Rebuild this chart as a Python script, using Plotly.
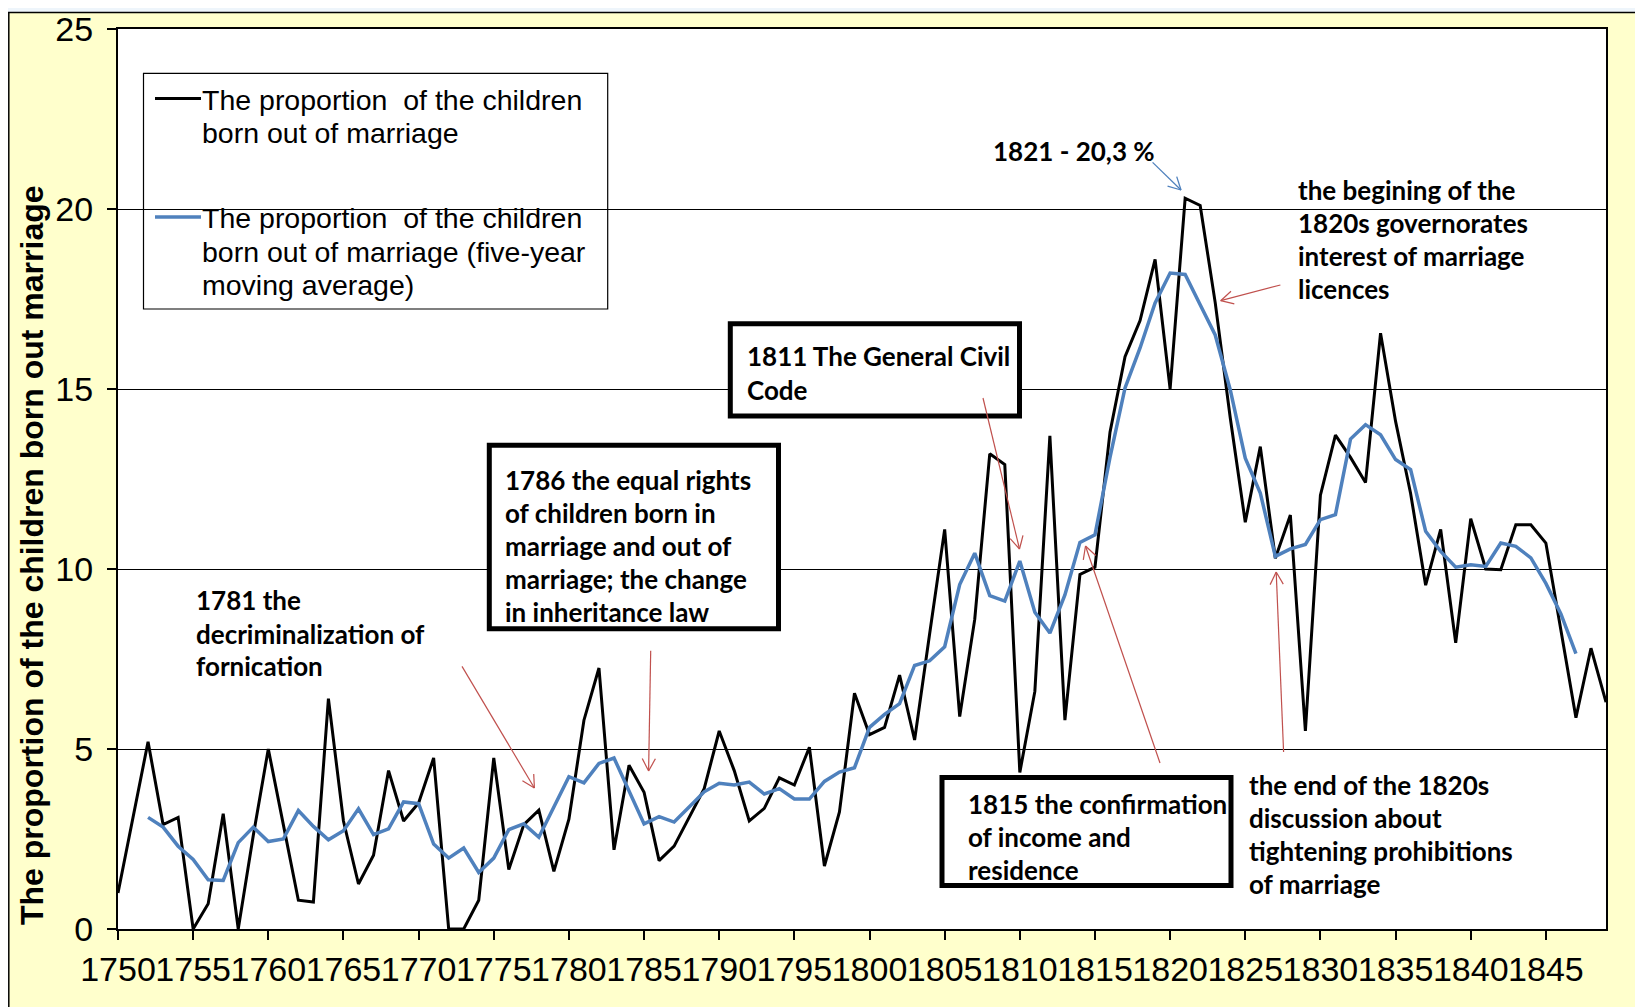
import math
import plotly.graph_objects as go

# ---------------- data ----------------
years = list(range(1750, 1850))
share_out_of_marriage = [
    1.0, 3.1, 5.2, 2.9, 3.1, 0.0, 0.7, 3.2, 0.0, 2.6,
    5.0, 2.9, 0.8, 0.75, 6.4, 3.0, 1.25, 2.05, 4.4, 3.0,
    3.5, 4.75, 0.0, 0.0, 0.8, 4.75, 1.65, 2.9, 3.3, 1.6,
    3.05, 5.8, 7.25, 2.2, 4.55, 3.8, 1.9, 2.3, 3.1, 3.9,
    5.5, 4.4, 3.0, 3.35, 4.2, 4.0, 5.05, 1.75, 3.25, 6.55,
    5.4, 5.6, 7.05, 5.25, 8.2, 11.1, 5.9, 8.6, 13.2, 12.9,
    4.35, 6.6, 13.7, 5.8, 9.85, 10.05, 13.8, 15.9, 16.9, 18.6,
    15.0, 20.3, 20.1, 17.4, 14.2, 11.3, 13.4, 10.3, 11.5, 5.5,
    12.05, 13.72, 13.1, 12.4, 16.55, 14.1, 12.1, 9.55, 11.1, 7.95,
    11.4, 10.0, 9.98, 11.23, 11.23, 10.72, 8.3, 5.87, 7.8, 6.3,
]
ma_years = list(range(1752, 1848))
share_moving_avg = [
    3.1, 2.83, 2.3, 1.93, 1.37, 1.35, 2.4, 2.83, 2.43, 2.5,
    3.29, 2.85, 2.48, 2.73, 3.34, 2.62, 2.78, 3.53, 3.48, 2.36,
    1.97, 2.25, 1.57, 1.97, 2.76, 2.92, 2.55, 3.39, 4.23, 4.06,
    4.6, 4.75, 3.85, 2.92, 3.12, 2.97, 3.39, 3.81, 4.05, 4.0,
    4.08, 3.75, 3.9, 3.61, 3.61, 4.1, 4.36, 4.48, 5.6, 5.96,
    6.26, 7.32, 7.45, 7.84, 9.57, 10.44, 9.26, 9.11, 10.22, 8.8,
    8.22, 9.28, 10.74, 10.95, 13.1, 15.03, 16.14, 17.39, 18.22, 18.18,
    17.34, 16.5, 14.98, 13.08, 12.11, 10.35, 10.56, 10.68, 11.37, 11.51,
    13.61, 14.01, 13.73, 13.04, 12.76, 11.05, 10.49, 10.05, 10.12, 10.07,
    10.72, 10.63, 10.31, 9.6, 8.75, 7.65,
]
x_tick_years = list(range(1750, 1850, 5))
y_ticks = [0, 5, 10, 15, 20, 25]

series_names = [
    "The proportion of the children born out of marriage",
    "The proportion of the children born out of marriage (five-year moving average)",
]

# ---------------- layout helpers (page pixel coordinates) ----------------
OFF = 8                      # default body margin of the html page
W, H = 1643 - OFF, 1007 - OFF
PL, PR, PT, PB = 118, 1606, 29, 929   # plot area on the page
ML, MT = PL - OFF, PT - OFF
MR = (OFF + W) - PR
MB = (OFF + H) - PB


def px(x):
    return (x - PL) / (PR - PL)


def py(y):
    return (PB - y) / (PB - PT)


BLACK = "black"
BLUE = "#4F81BD"
RED = "#C0504D"
YELLOW = "#FFFFCC"
AX_FONT = "Liberation Sans, Arial, sans-serif"
ANN_FONT = "Lato, Carlito, Calibri, sans-serif"

fig = go.Figure()
fig.add_trace(go.Scatter(x=years, y=share_out_of_marriage, mode="lines",
                         line=dict(color=BLACK, width=3), name=series_names[0]))
fig.add_trace(go.Scatter(x=ma_years, y=share_moving_avg, mode="lines",
                         line=dict(color=BLUE, width=3.5), name=series_names[1]))

shapes = []
annotations = []


def rect(x0, y0, x1, y1, lw, layer="above", fill="white", color="black"):
    shapes.append(dict(type="rect", xref="paper", yref="paper",
                       x0=px(x0), x1=px(x1), y0=py(y0), y1=py(y1),
                       line=dict(color=color, width=lw), fillcolor=fill, layer=layer))


def seg(x0, y0, x1, y1, color, lw, layer="above"):
    shapes.append(dict(type="line", xref="paper", yref="paper",
                       x0=px(x0), x1=px(x1), y0=py(y0), y1=py(y1),
                       line=dict(color=color, width=lw), layer=layer))


def arrow(x0, y0, x1, y1, color=RED, lw=1.2, head=14, ang=28):
    seg(x0, y0, x1, y1, color, lw)
    a = math.atan2(y0 - y1, x0 - x1)
    for s in (-1, 1):
        t = a + s * math.radians(ang)
        seg(x1, y1, x1 + head * math.cos(t), y1 + head * math.sin(t), color, lw)


def text(x, y, s, size=26, family=ANN_FONT, bold=True):
    annotations.append(dict(xref="paper", yref="paper", x=px(x), y=py(y),
                            xanchor="left", yanchor="middle", showarrow=False,
                            text=("<b>%s</b>" % s) if bold else s,
                            font=dict(family=family, size=size, color="black")))


# page frame (top strip + chart area border)
rect(OFF, OFF, OFF + W, 12, 0, layer="below", fill="#EEF5FB", color="rgba(0,0,0,0)")
seg(8.8, 12, 8.8, OFF + H, "black", 1.5, layer="below")
seg(8, 12.5, OFF + W, 12.5, "black", 1.5, layer="below")

# legend (drawn manually)
rect(143.5, 73.3, 607.7, 309, 1.2, layer="between")
seg(155, 98.5, 201, 98.5, BLACK, 3)
seg(155, 217, 201, 217, BLUE, 3.5)
LEG = 28.5
text(200, 99.5, "The proportion  of the children", LEG, AX_FONT, False)
text(200, 133, "born out of marriage", LEG, AX_FONT, False)
text(200, 218, "The proportion  of the children", LEG, AX_FONT, False)
text(200, 252.5, "born out of marriage (five-year", LEG, AX_FONT, False)
text(200, 285, "moving average)", LEG, AX_FONT, False)

# white background behind the right-hand note
rect(1280, 168, 1577, 306, 0, layer="between", color="rgba(0,0,0,0)")

# boxed notes
rect(489.3, 445.3, 778.5, 628.7, 5)
rect(730.3, 323.8, 1019.5, 416, 5)
rect(942, 777.5, 1231, 885.4, 5)

text(194, 600.4, "1781 the")
text(194, 634, "decriminalization of")
text(194, 666.4, "fornication")

text(503, 480, "1786 the equal rights")
text(503, 513.4, "of children born in")
text(503, 546, "marriage and out of")
text(503, 579.4, "marriage; the change")
text(503, 612, "in inheritance law")

text(745, 356, "1811 The General Civil")
text(745, 390, "Code")

text(991, 151, "1821 - 20,3 %")

text(1296, 189.6, "the begining of the")
text(1296, 223.2, "1820s governorates")
text(1296, 255.7, "interest of marriage")
text(1296, 289.2, "licences")

text(966, 803.6, "1815 the confirmation")
text(966, 837.2, "of income and")
text(966, 869.7, "residence")

text(1247, 784.8, "the end of the 1820s")
text(1247, 818.3, "discussion about")
text(1247, 850.8, "tightening prohibitions")
text(1247, 884.3, "of marriage")

# arrows
arrow(462, 666.4, 534.4, 788)
arrow(650.7, 650.7, 648.6, 771)
arrow(983, 398, 1019.5, 549)
arrow(1160, 763, 1085.5, 546)
arrow(1283.6, 752, 1276.2, 572)
arrow(1280.4, 285, 1220.7, 300.7)
arrow(1152.6, 162.4, 1181, 190, color=BLUE, lw=1.3)

# y axis title
annotations.append(dict(xref="paper", yref="paper", x=px(32), y=py(555),
                        xanchor="center", yanchor="middle", showarrow=False,
                        textangle=-90,
                        text="<b>The proportion of the children born out marriage</b>",
                        font=dict(family=AX_FONT, size=32, color="black")))

fig.update_layout(
    width=W, height=H,
    margin=dict(l=ML, r=MR, t=MT, b=MB, pad=0, autoexpand=False),
    paper_bgcolor=YELLOW, plot_bgcolor="white",
    showlegend=False,
    shapes=shapes, annotations=annotations,
    xaxis=dict(range=[1750, 1849], tickmode="array", tickvals=x_tick_years,
               ticktext=[str(v) for v in x_tick_years], tickangle=0,
               ticks="outside", ticklen=9, tickwidth=1.5, tickcolor="black",
               showgrid=False, zeroline=False, showline=True, linecolor="black",
               linewidth=2, mirror=True, ticklabeloverflow="allow",
               automargin=False,
               tickfont=dict(family=AX_FONT, size=34, color="black")),
    yaxis=dict(range=[0, 25], tickmode="array", tickvals=y_ticks,
               ticks="outside", ticklen=9, tickwidth=1.5, tickcolor="black",
               showgrid=True, gridcolor="black", gridwidth=1, zeroline=False,
               showline=True, linecolor="black", linewidth=2, mirror=True,
               ticklabelstandoff=7, automargin=False,
               tickfont=dict(family=AX_FONT, size=34, color="black")),
)

fig.write_html("out.html")
